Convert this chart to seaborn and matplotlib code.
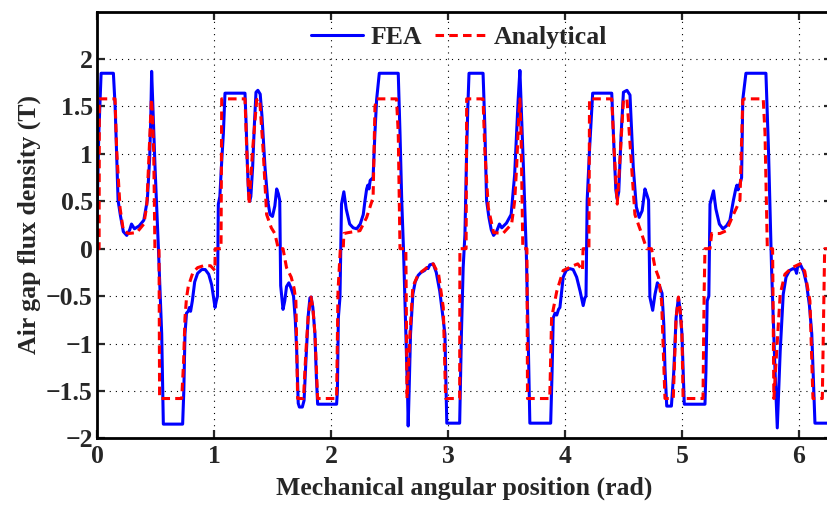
import numpy as np
import pandas as pd
import matplotlib
matplotlib.use("Agg")
import matplotlib.pyplot as plt
import seaborn as sns

# ===== DATA =====
fea_x = [0.00, 0.015, 0.035, 0.14, 0.155, 0.18, 0.20, 0.225, 0.254, 0.28, 0.295, 0.32, 0.36, 0.40, 0.43, 0.45,
         0.46, 0.467, 0.475, 0.496, 0.525, 0.553, 0.567, 0.732, 0.742, 0.752, 0.765, 0.78, 0.79, 0.80, 0.815,
         0.835, 0.86, 0.895, 0.925, 0.955, 0.98, 1.00, 1.009, 1.02, 1.03, 1.037, 1.05, 1.065, 1.08, 1.094,
         1.265, 1.275, 1.285, 1.295, 1.305, 1.315, 1.33, 1.345, 1.359, 1.375, 1.395, 1.41, 1.436, 1.46, 1.479,
         1.50, 1.52, 1.536, 1.55, 1.562, 1.57, 1.59, 1.605, 1.62, 1.64, 1.66, 1.68, 1.695, 1.707, 1.72, 1.73,
         1.755, 1.77, 1.785, 1.806, 1.82, 1.83, 1.845, 1.863, 1.875, 1.886, 2.048, 2.055, 2.063, 2.077, 2.09,
         2.11, 2.13, 2.16, 2.19, 2.22, 2.25, 2.276, 2.29, 2.305, 2.315, 2.325, 2.335, 2.36, 2.375, 2.39, 2.413,
         2.575, 2.59, 2.605, 2.62, 2.64, 2.655, 2.66, 2.668, 2.68, 2.70, 2.72, 2.746, 2.77, 2.80, 2.82, 2.83,
         2.845, 2.874, 2.90, 2.93, 2.955, 2.974, 2.99, 3.10, 3.115, 3.13, 3.145, 3.16, 3.17, 3.18,
         3.30, 3.315, 3.33, 3.35, 3.37, 3.39, 3.415, 3.44, 3.46, 3.50, 3.54, 3.57, 3.59, 3.60, 3.615, 3.625,
         3.645, 3.67, 3.685, 3.70, 3.878, 3.89, 3.90, 3.915, 3.93, 3.945, 3.957, 3.985, 4.01, 4.04, 4.07,
         4.10, 4.13, 4.156, 4.17, 4.18, 4.19, 4.21, 4.237, 4.40, 4.42, 4.435, 4.447, 4.46, 4.48, 4.50, 4.53,
         4.556, 4.584, 4.61, 4.635, 4.66, 4.684, 4.70, 4.715, 4.726, 4.75, 4.77, 4.79, 4.81, 4.83, 4.845,
         4.855, 4.87, 4.91, 4.93, 4.95, 4.97, 4.985, 5.00, 5.02, 5.197, 5.205, 5.216, 5.23, 5.24, 5.27, 5.29,
         5.32, 5.35, 5.38, 5.41, 5.44, 5.46, 5.47, 5.48, 5.50, 5.51, 5.52, 5.547, 5.718, 5.74, 5.766, 5.795,
         5.815, 5.84, 5.866, 5.89, 5.92, 5.95, 5.97, 5.98, 5.99, 6.01, 6.04, 6.065, 6.09, 6.11, 6.137, 6.25,
         6.262, 6.274, 6.2832]
fea_y = [0.33, 1.20, 1.85, 1.85, 1.50, 0.51, 0.35, 0.18, 0.14, 0.20, 0.26, 0.21, 0.24, 0.30, 0.51, 0.95,
         1.40, 1.87, 1.60, 0.86, 0.00, -0.90, -1.85, -1.85, -1.50, -0.90, -0.68, -0.66, -0.62, -0.66, -0.55,
         -0.35, -0.26, -0.22, -0.22, -0.27, -0.38, -0.55, -0.62, -0.55, -0.50, 0.47, 0.55, 0.90, 1.21, 1.64,
         1.64, 1.30, 0.90, 0.60, 0.50, 0.55, 0.85, 1.30, 1.65, 1.67, 1.63, 1.40, 0.86, 0.50, 0.36,
         0.34, 0.45, 0.63, 0.58, 0.51, -0.39, -0.64, -0.55, -0.40, -0.36, -0.42, -0.50, -0.75, -1.08, -1.63, -1.67,
         -1.67, -1.60, -1.20, -0.70, -0.52, -0.51, -0.62, -0.90, -1.35, -1.64, -1.64, -1.50, -0.73, -0.51, 0.47,
         0.60, 0.42, 0.26, 0.22, 0.21, 0.26, 0.36, 0.50, 0.63, 0.67, 0.63, 0.72, 0.75, 1.20, 1.57, 1.85,
         1.85, 1.22, 0.50, -0.01, -0.90, -1.55, -1.87, -1.50, -0.90, -0.48, -0.35, -0.28, -0.25, -0.23, -0.20, -0.21,
         -0.17, -0.16, -0.25, -0.45, -0.70, -0.90, -1.84, -1.84, -0.90, -0.20, 0.15, 1.04, 1.50, 1.85,
         1.85, 1.30, 0.51, 0.33, 0.20, 0.14, 0.18, 0.26, 0.22, 0.27, 0.36, 0.78, 1.30, 1.57, 1.88, 1.55,
         0.86, -0.05, -0.90, -1.84, -1.84, -1.30, -0.73, -0.68, -0.70, -0.64, -0.62, -0.30, -0.23, -0.21, -0.22,
         -0.30, -0.45, -0.60, -0.52, -0.50, 0.51, 1.04, 1.64, 1.64, 1.04, 0.62, 0.52, 0.60, 1.20, 1.65, 1.67,
         1.62, 0.86, 0.44, 0.33, 0.40, 0.63, 0.57, 0.51, -0.51, -0.65, -0.48, -0.36, -0.40, -0.47, -0.80,
         -1.26, -1.66, -1.66, -1.30, -0.73, -0.515, -0.65, -0.90, -1.64, -1.64, -1.30, -0.55, -0.50, 0.47, 0.61, 0.42,
         0.26, 0.21, 0.24, 0.30, 0.51, 0.63, 0.67, 0.62, 0.70, 0.75, 1.57, 1.85, 1.85, 1.04, -0.20, -1.26,
         -1.89, -1.08, -0.48, -0.30, -0.23, -0.21, -0.22, -0.26, -0.18, -0.16, -0.24, -0.37, -0.60, -0.90, -1.84, -1.84,
         -0.90, -0.20, 0.33]

ana_x = [0.00, 0.018, 0.02, 0.154, 0.168, 0.197, 0.225, 0.27, 0.34, 0.40, 0.425, 0.44, 0.455, 0.465, 0.475,
         0.485, 0.495, 0.53, 0.535, 0.724, 0.74, 0.752, 0.765, 0.78, 0.82, 0.86, 0.91, 0.97, 1.008, 1.01,
         1.06, 1.066, 1.265, 1.28, 1.30, 1.33, 1.365, 1.39, 1.42, 1.45, 1.49, 1.52, 1.55, 1.59, 1.62, 1.66,
         1.685, 1.70, 1.715, 1.765, 1.785, 1.806, 1.829, 1.845, 1.863, 1.886, 2.048, 2.06, 2.08, 2.105, 2.11,
         2.15, 2.20, 2.248, 2.305, 2.36, 2.376, 2.39, 2.56, 2.575, 2.59, 2.64, 2.65, 2.675, 2.70, 2.746, 2.82,
         2.874, 2.92, 2.96, 2.98, 3.10, 3.102, 3.155, 3.16,
         3.30, 3.315, 3.345, 3.39, 3.47, 3.544, 3.57, 3.587, 3.605, 3.615, 3.625, 3.64, 3.675, 3.68, 3.87,
         3.886, 3.93, 3.985, 4.07, 4.11, 4.15, 4.155, 4.205, 4.21, 4.40, 4.42, 4.447, 4.475, 4.50, 4.53, 4.56,
         4.598, 4.655, 4.698, 4.74, 4.77, 4.80, 4.826, 4.855, 4.926, 4.95, 4.97, 4.985, 5.00, 5.01, 5.18,
         5.19, 5.197, 5.24, 5.254, 5.325, 5.38, 5.44, 5.496, 5.52, 5.54, 5.695, 5.71, 5.73, 5.775, 5.786,
         5.81, 5.84, 5.88, 5.94, 6.01, 6.05, 6.094, 6.12, 6.20, 6.22, 6.2832]
ana_y = [0.00, 0.00, 1.58, 1.58, 1.04, 0.43, 0.19, 0.16, 0.17, 0.26, 0.45, 0.86, 1.30, 1.58, 1.40,
         1.00, 0.00, 0.00, -1.58, -1.58, -1.20, -0.73, -0.52, -0.40, -0.25, -0.20, -0.18, -0.18, -0.23, 0.00,
         0.00, 1.58, 1.58, 1.04, 0.47, 1.04, 1.57, 1.58, 1.04, 0.36, 0.22, 0.16, 0.00, 0.00, -0.20, -0.30,
         -0.42, -0.55, -1.58, -1.58, -1.10, -0.70, -0.51, -0.62, -0.90, -1.58, -1.58, -0.45, 0.00, 0.00, 0.16,
         0.17, 0.18, 0.19, 0.33, 0.54, 1.50, 1.58, 1.58, 1.22, 0.00, 0.00, -1.58, -0.90, -0.40, -0.27, -0.20,
         -0.16, -0.27, -0.62, -1.58, -1.58, 0.00, 0.00, 1.58,
         1.58, 1.04, 0.43, 0.17, 0.16, 0.26, 0.50, 0.86, 1.40, 1.58, 1.20, 0.00, 0.00, -1.58, -1.58,
         -0.73, -0.45, -0.23, -0.18, -0.16, -0.23, 0.00, 0.00, 1.58, 1.58, 1.04, 0.47, 1.04, 1.57, 1.58, 1.04,
         0.36, 0.16, 0.00, 0.00, -0.20, -0.30, -0.55, -1.58, -1.58, -0.73, -0.51, -0.65, -0.90, -1.58, -1.58,
         -0.45, 0.00, 0.00, 0.16, 0.16, 0.19, 0.36, 0.51, 1.57, 1.58, 1.58, 1.22, 0.00, 0.00, -1.58,
         -1.08, -0.48, -0.27, -0.20, -0.16, -0.24, -0.55, -1.58, -1.58, 0.00, 0.00]

x_ticks = [0, 1, 2, 3, 4, 5, 6]
y_ticks = [-2, -1.5, -1, -0.5, 0, 0.5, 1, 1.5, 2]
y_tick_labels = ['\u22122', '\u22121.5', '\u22121', '\u22120.5', '0', '0.5', '1', '1.5', '2']

fea = pd.DataFrame({'x': fea_x, 'y': fea_y})
ana = pd.DataFrame({'x': ana_x, 'y': ana_y})

# ===== STYLE =====
sns.set_style("ticks")
plt.rcParams['font.family'] = ['Liberation Serif', 'DejaVu Serif']
plt.rcParams['font.weight'] = 'bold'

fig = plt.figure(figsize=(8.27, 5.05), dpi=100)
ax = fig.add_axes([0.1173, 0.132, 0.8888, 0.845])

sns.lineplot(data=fea, x='x', y='y', ax=ax, color='#0000FF', linewidth=2.2,
             estimator=None, sort=False, label='FEA')
sns.lineplot(data=ana, x='x', y='y', ax=ax, color='#FF0000', linewidth=2.2,
             estimator=None, sort=False, label='Analytical', dashes=False)
ax.lines[1].set_dashes([2.8, 1.7])

# ===== AXES =====
ax.set_xlim(0, 2 * np.pi)
ax.set_ylim(-2, 2.5)
ax.set_xticks(x_ticks)
ax.set_yticks(y_ticks)
ax.set_yticklabels(y_tick_labels)
ax.tick_params(direction='in', length=6, width=1.6, top=True, right=True, labelsize=18.5)
ax.tick_params(axis='x', pad=5)
ax.tick_params(axis='y', pad=3)
for lab in ax.get_xticklabels() + ax.get_yticklabels():
    lab.set_fontweight('bold')
for sp in ax.spines.values():
    sp.set_linewidth(2)
    sp.set_color('black')
ax.grid(True, color='black', linestyle=(0, (1, 4.5)), linewidth=0.8)

ax.set_xlabel('Mechanical angular position (rad)', fontsize=18.5, fontweight='bold', labelpad=6)
ax.set_ylabel('Air gap flux density (T)', fontsize=18.5, fontweight='bold', labelpad=4)

leg = ax.legend(loc='center', bbox_to_anchor=(0.493, 0.94), ncol=2, frameon=False,
                prop={'size': 18.5, 'weight': 'bold'}, handlelength=2.0, columnspacing=0.5,
                handletextpad=0.3)
leg.get_lines()[1].set_dashes([2.8, 1.7])

fig.savefig('out.png', dpi=100)
